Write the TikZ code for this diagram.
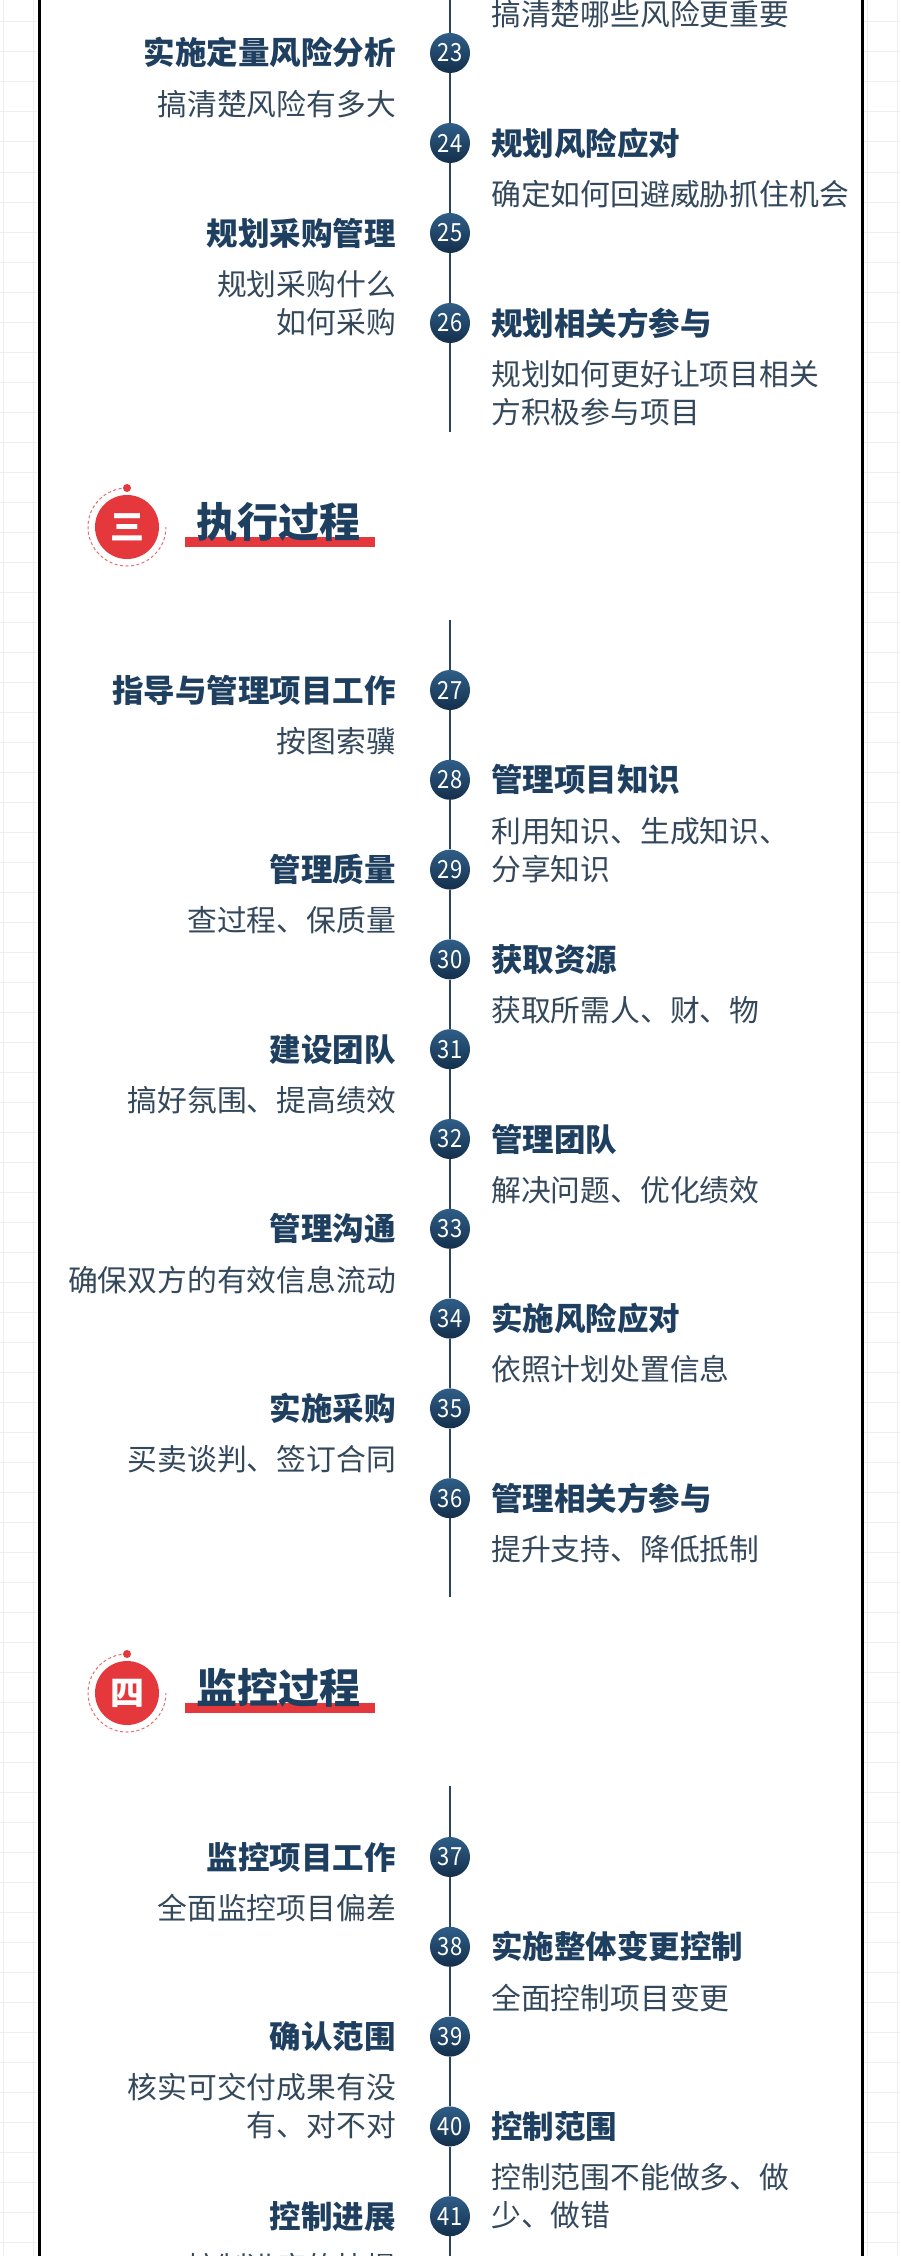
\documentclass[tikz,border=0pt]{standalone}
\usepackage{fontspec}
\setmainfont{Noto Sans CJK SC}
\usetikzlibrary{calc}
\definecolor{navy}{HTML}{1E3F60}
\definecolor{subc}{HTML}{34485C}
\definecolor{numtop}{HTML}{2F5E88}
\definecolor{numbot}{HTML}{142F4B}
\definecolor{linec}{HTML}{2A4561}
\definecolor{hred}{HTML}{E4383C}
\definecolor{gridc}{HTML}{EEEEEE}
\tikzset{
  num/.style={circle, minimum size=40pt, inner sep=0pt, top color=numtop, bottom color=numbot, draw=none, text=white, font=\fontsize{25}{25}\selectfont},
  ttl/.style={inner sep=0pt, text=navy, font=\fontsize{31.5}{36}\selectfont\bfseries},
  sub/.style={inner sep=0pt, text=subc, font=\fontsize{29.8}{34}\selectfont},
  tl/.style={draw=linec, line width=2.6pt},
  htitle/.style={inner sep=0pt, text=navy, font=\fontsize{41}{46}\selectfont\bfseries},
  hnum/.style={circle, fill=hred, minimum size=64pt, inner sep=0pt, text=white, font=\fontsize{34}{34}\selectfont\bfseries},
}
% left item: number, y, title, subtitle
\newcommand\itemL[4]{%
  \node[num] (c#1) at (450,-#2) {\scalebox{0.88}[1]{#1}};
  \node[ttl, anchor=base east] (t#1) at (396,{-(#2+12)}) {#3};
  \node[sub, anchor=base east] (s#1) at (396,{-(#2+62.3)}) {#4};
}
\newcommand\itemR[4]{%
  \node[num] (c#1) at (450,-#2) {\scalebox{0.88}[1]{#1}};
  \node[ttl, anchor=base west] (t#1) at (491,{-(#2+12)}) {#3};
  \node[sub, anchor=base west] (s#1) at (491,{-(#2+62.3)}) {#4};
}
\newcommand\moreL[3]{\node[sub, anchor=base east] (u#1) at (396,{-(#2+100.3)}) {#3};}
\newcommand\moreR[3]{\node[sub, anchor=base west] (u#1) at (491,{-(#2+100.3)}) {#3};}
\newcommand\header[4]{%
  \node[hnum] (h#1) at (127,-#2) {#3};
  \draw[hred!75, line width=1pt, dash pattern=on 3pt off 2.5pt] ($(h#1.center)+(0,39)$) arc[start angle=90, end angle=360, radius=39];
  \fill[hred] ($(h#1.center)+(0,39)$) circle (4);
  \fill[hred] (185,{-(#2+10)}) rectangle (375,{-(#2+20)});
  \node[htitle, anchor=base west] (ht#1) at (196,{-(#2+10.6)}) {#4};
}
\begin{document}
\begin{tikzpicture}[x=1pt,y=1pt]
\useasboundingbox (0,0) rectangle (900,-2256);
\fill[white] (0,0) rectangle (900,-2256);
% margin grid
\foreach \k in {0,...,75}{
  \draw[gridc, line width=1pt] (0,{-(22+30*\k)}) -- (37,{-(22+30*\k)});
  \draw[gridc, line width=1pt] (864,{-(22+30*\k)}) -- (900,{-(22+30*\k)});
}
\foreach \x in {3,33,867,897}{
  \draw[gridc, line width=1pt] (\x,0) -- (\x,-2256);
}
% frame
\draw[black, line width=3pt] (39,0) -- (39,-2256);
\draw[black, line width=3pt] (862,0) -- (862,-2256);

% ---------- section A (continued) ----------
\node[sub, anchor=base west] (s22) at (491,{-(14+11.3)}) {搞清楚哪些风险更重要};
\itemL{23}{53}{实施定量风险分析}{搞清楚风险有多大}
\itemR{24}{143}{规划风险应对}{确定如何回避威胁抓住机会}
\itemL{25}{233}{规划采购管理}{规划采购什么}
\moreL{25}{233}{如何采购}
\itemR{26}{323}{规划相关方参与}{规划如何更好让项目相关}
\moreR{26}{323}{方积极参与项目}
\coordinate (topA) at (450,0);
\coordinate (endA) at (450,-432);
\draw[tl] (topA) -- (c23);
\draw[tl] (c23) -- (c24);
\draw[tl] (c24) -- (c25);
\draw[tl] (c25) -- (c26);
\draw[tl] (c26) -- (endA);

% ---------- section 3 ----------
\header{3}{527}{三}{执行过程}
\itemL{27}{690}{指导与管理项目工作}{按图索骥}
\itemR{28}{779.8}{管理项目知识}{利用知识、生成知识、}
\moreR{28}{779.8}{分享知识}
\itemL{29}{869.6}{管理质量}{查过程、保质量}
\itemR{30}{959.4}{获取资源}{获取所需人、财、物}
\itemL{31}{1049.2}{建设团队}{搞好氛围、提高绩效}
\itemR{32}{1139}{管理团队}{解决问题、优化绩效}
\itemL{33}{1228.8}{管理沟通}{确保双方的有效信息流动}
\itemR{34}{1318.6}{实施风险应对}{依照计划处置信息}
\itemL{35}{1408.4}{实施采购}{买卖谈判、签订合同}
\itemR{36}{1498.2}{管理相关方参与}{提升支持、降低抵制}
\coordinate (topB) at (450,-620);
\coordinate (endB) at (450,-1597);
\draw[tl] (topB) -- (c27);
\draw[tl] (c27) -- (c28);
\draw[tl] (c28) -- (c29);
\draw[tl] (c29) -- (c30);
\draw[tl] (c30) -- (c31);
\draw[tl] (c31) -- (c32);
\draw[tl] (c32) -- (c33);
\draw[tl] (c33) -- (c34);
\draw[tl] (c34) -- (c35);
\draw[tl] (c35) -- (c36);
\draw[tl] (c36) -- (endB);

% ---------- section 4 ----------
\header{4}{1693}{四}{监控过程}
\itemL{37}{1857}{监控项目工作}{全面监控项目偏差}
\itemR{38}{1946.8}{实施整体变更控制}{全面控制项目变更}
\itemL{39}{2036.6}{确认范围}{核实可交付成果有没}
\moreL{39}{2036.6}{有、对不对}
\itemR{40}{2126.4}{控制范围}{控制范围不能做多、做}
\moreR{40}{2126.4}{少、做错}
\itemL{41}{2216.2}{控制进展}{控制进度的快慢}
\coordinate (topC) at (450,-1786);
\coordinate (endC) at (450,-2256);
\draw[tl] (topC) -- (c37);
\draw[tl] (c37) -- (c38);
\draw[tl] (c38) -- (c39);
\draw[tl] (c39) -- (c40);
\draw[tl] (c40) -- (c41);
\draw[tl] (c41) -- (endC);
\end{tikzpicture}
\end{document}
